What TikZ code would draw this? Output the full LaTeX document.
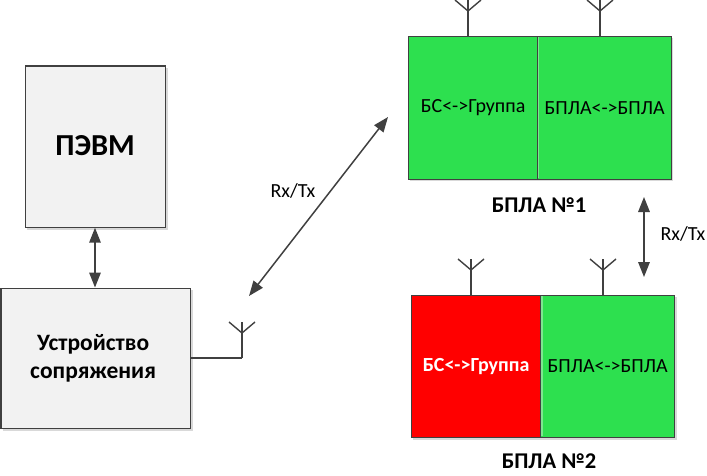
\documentclass[tikz,border=0pt]{standalone}
\usepackage{fontspec}
\setmainfont{Carlito}
\usetikzlibrary{arrows.meta,calc}
\definecolor{gbox}{HTML}{F2F2F2}
\definecolor{lne}{HTML}{404040}
\definecolor{grn}{HTML}{2DE04F}
\definecolor{shd}{HTML}{D9D9D9}
\tikzset{
  x=1pt,y=-1pt,
  block/.style={draw=lne,line width=1.2pt,anchor=north west,inner sep=0pt,align=center,
     minimum width=#1},
  block/.default=100pt,
  shadowrect/.style={fill=shd,draw=none},
  wire/.style={draw=lne,line width=1.3pt},
  aerial/.style={draw=lne,line width=1.4pt},
  dblarrow/.style={draw=lne,line width=1.5pt,{Triangle[length=15pt,width=11.5pt]}-{Triangle[length=15pt,width=11.5pt]},shorten <=0pt,shorten >=0pt},
  lbl/.style={font=\fontsize{20}{24}\selectfont,text=black},
  captiontext/.style={font=\fontsize{22.5}{26}\selectfont\bfseries,text=black},
}
\newcommand{\antenna}[3]{% base name, x, ybase -- mast and fork
  \coordinate (#1base) at (#2,#3);
  \coordinate (#1fork) at (#2,#3-25);
  \coordinate (#1top) at (#2,#3-36);
  \coordinate (#1l) at (#2-13,#3-36);
  \coordinate (#1r) at (#2+13,#3-36);
  \draw[aerial] (#1base) -- (#1top);
  \draw[aerial] (#1l) -- (#1fork) -- (#1r);
}
\begin{document}
\begin{tikzpicture}
\useasboundingbox (0,0) rectangle (707,476);
% shadows
\fill[shadowrect] (27,68) rectangle (168,230);
\fill[shadowrect] (3,290) rectangle (193,431);
\fill[shadowrect] (410,38) rectangle (673,181);
\fill[shadowrect] (413,297) rectangle (677,440);
% blocks
\node[block=140pt,minimum height=161pt,fill=gbox,font=\fontsize{30.5}{34}\selectfont\bfseries] (pc) at (24.5,65.5) {\raisebox{2pt}{ПЭВМ}};
\node[block=189pt,minimum height=140pt,fill=gbox,font=\fontsize{23.5}{28}\selectfont\bfseries] (dev) at (0.5,287.5) {Устройство\kern5pt\\сопряжения\kern5pt};
\node[block=129pt,minimum height=143pt,fill=grn,lbl] (a1) at (408,36) {БС<->Группа};
\node[block=134pt,minimum height=143pt,fill=grn,lbl] (b1) at (537,36) {БПЛА<->БПЛА};
\node[block=129pt,minimum height=142pt,fill=red,text=white,font=\fontsize{20}{24}\selectfont\bfseries] (a2) at (411,295) {БС<->Группа};
\node[block=134pt,minimum height=142pt,fill=grn,lbl] (b2) at (540,295) {БПЛА<->БПЛА};
\fill[grn!60!gbox] (541,296) rectangle (543,436.4);
\fill[grn!60!gbox] (538,37) rectangle (539,178.4);
% captions
\node[captiontext] (c1) at (539,205) {БПЛА №1};
\node[captiontext] (c2) at (549,461) {БПЛА №2};
\node[lbl] (rx1) at (293,191) {Rx/Tx};
\node[lbl] (rx2) at (683,234) {Rx/Tx};
% antennas
\antenna{aa}{468}{36}
\antenna{ab}{600}{36}
\antenna{ac}{471}{295}
\antenna{ad}{603}{295}
\antenna{ae}{242}{358}
% device to antenna
\draw[wire] (dev.east |- aebase) -- (aebase);
% arrows
\coordinate (pcx) at (95,0);
\draw[dblarrow] (pc.south -| pcx) -- (dev.north -| pcx);
\coordinate (d1) at (388,117);
\coordinate (d2) at (249,296);
\draw[dblarrow] (d1) -- (d2);
\coordinate (v1) at (644,197);
\coordinate (v2) at (644,277);
\draw[dblarrow] (v1) -- (v2);
\end{tikzpicture}
\end{document}
